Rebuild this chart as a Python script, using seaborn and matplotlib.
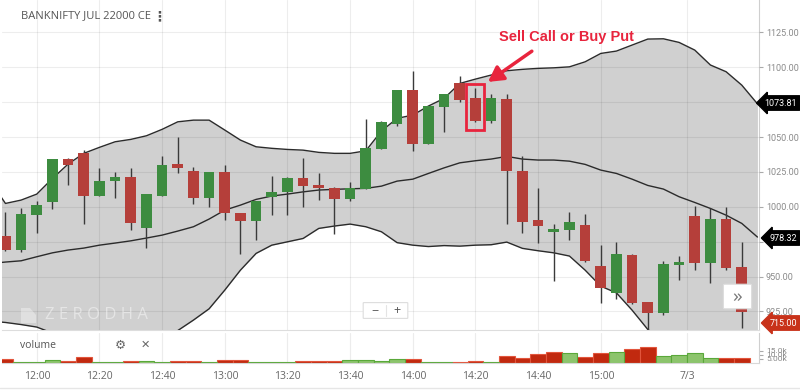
import numpy as np
import pandas as pd
import matplotlib.pyplot as plt
import seaborn as sns
from matplotlib.patches import Rectangle, FancyBboxPatch, Polygon
from matplotlib.lines import Line2D

# 5-min candles: 11:50 -> 15:25, then next day 9:15 -> 9:30
opens = [978.9, 969.3, 994.3, 1003.8, 1034.3, 1038.4, 1008.1, 1018.6, 1021.2, 985.2,
         1008.1, 1030.5, 1025.2, 1006.9, 1024.8, 995.0, 990.2, 1007.4, 1010.9, 1020.5,
         1015.0, 1013.4, 1006.2, 1012.9, 1041.9, 1059.8, 1083.1, 1045.5, 1072.1, 1088.4,
         1077.4, 1061.6, 1076.9, 1025.2, 990.0, 982.1, 983.6, 986.6, 957.4, 938.4,
         965.2, 931.2, 924.5, 958.6, 993.1, 960.3, 990.7, 956.6]
highs = [996.6, 999.1, 1003.8, 1034.5, 1035.0, 1040.7, 1027.6, 1025.2, 1027.6, 1009.0,
         1036.4, 1050.2, 1028.8, 1025.0, 1030.0, 995.5, 1004.5, 1022.1, 1021.0, 1034.8,
         1024.1, 1014.0, 1018.1, 1062.9, 1061.6, 1084.0, 1097.4, 1072.5, 1081.0, 1093.6,
         1084.8, 1080.7, 1080.7, 1036.4, 1013.4, 987.9, 996.2, 995.0, 972.9, 974.5,
         966.4, 931.5, 960.9, 965.0, 1000.7, 999.1, 999.8, 974.5]
lows = [968.0, 967.5, 981.2, 998.4, 1015.7, 987.9, 1008.0, 1006.6, 983.6, 970.5,
        1008.0, 1024.1, 1002.1, 1000.2, 990.7, 966.4, 976.4, 993.8, 993.8, 1000.2,
        1005.0, 980.7, 1003.8, 1012.9, 1041.5, 1058.0, 1040.2, 1045.0, 1053.8, 1075.2,
        1061.0, 1059.8, 987.6, 981.2, 974.1, 946.6, 976.4, 960.5, 930.7, 933.6,
        930.0, 912.0, 922.1, 947.4, 954.5, 945.5, 955.0, 913.4]
closes = [969.3, 994.3, 1000.7, 1034.3, 1030.0, 1008.1, 1018.1, 1021.2, 988.4, 1008.6,
          1030.0, 1028.1, 1006.9, 1024.8, 995.5, 990.2, 1003.8, 1010.5, 1020.5, 1015.2,
          1013.6, 1006.2, 1012.9, 1041.9, 1060.7, 1083.1, 1045.5, 1072.1, 1080.7, 1077.1,
          1062.1, 1077.6, 1025.7, 989.5, 986.4, 984.1, 988.8, 961.6, 941.9, 965.7,
          931.2, 924.5, 958.6, 959.9, 960.3, 990.7, 956.2, 925.2]
volume_k = [4.6, 1.2, 1.2, 3.3, 1.7, 6.7, 0.8, 0.8, 2.5, 2.5, 0.8, 1.7, 2.5, 0.8, 2.9, 3.7,
            0.8, 0.8, 0.8, 2.5, 2.5, 2.5, 3.7, 3.7, 2.5, 4.6, 4.6, 0.4, 1.2, 0.8, 2.5, 0.8,
            8.7, 5.4, 10.4, 13.7, 12.5, 7.5, 11.7, 12.9, 16.7, 19.2, 8.7, 9.6, 11.7, 5.4, 5.4, 5.4]

# Bollinger band readings, from one bar before the window to one bar after
bb_upper = [1019.1, 1002.4, 1004.8, 1009.1, 1020.3, 1030.6, 1038.3, 1042.6, 1046.6, 1048.3,
            1050.9, 1055.5, 1060.9, 1062.1, 1062.1, 1055.0, 1047.8, 1043.0, 1041.9, 1041.1,
            1040.6, 1039.0, 1038.3, 1038.3, 1040.1, 1054.3, 1063.4, 1065.7, 1072.2, 1077.7,
            1088.4, 1091.5, 1094.4, 1097.5, 1098.5, 1099.2, 1099.6, 1100.3, 1103.9, 1109.9,
            1111.6, 1115.9, 1120.2, 1120.4, 1117.8, 1112.3, 1101.6, 1096.8, 1087.2, 1073.81]
bb_middle = [959.3, 960.4, 961.3, 964.2, 967.0, 969.0, 970.4, 972.5, 974.0, 975.6,
             977.6, 979.7, 982.6, 985.7, 991.2, 997.6, 1001.2, 1005.3, 1007.7, 1009.1,
             1010.7, 1012.0, 1012.5, 1012.9, 1013.2, 1014.8, 1018.4, 1019.8, 1023.9, 1027.9,
             1031.5, 1033.0, 1034.2, 1036.1, 1034.2, 1033.5, 1033.5, 1032.7, 1030.4, 1026.3,
             1023.9, 1019.8, 1015.3, 1012.7, 1007.2, 1003.1, 998.8, 994.0, 988.1, 978.32]
bb_lower = [918.1, 917.1, 915.6, 913.8, 909.5, 905.9, 903.7, 902.3, 903.0, 904.4,
            906.6, 908.7, 911.3, 918.8, 926.9, 940.3, 954.6, 966.6, 972.5, 974.9,
            977.3, 984.5, 986.2, 987.6, 985.7, 982.1, 974.3, 972.5, 971.5, 972.2,
            971.8, 972.5, 972.8, 974.7, 970.2, 968.5, 967.0, 964.7, 954.6, 943.1,
            938.3, 925.9, 912.1, 903.0, 898.7, 898.7, 900.9, 903.0, 904.4, 905.9]

tick_pos = [2, 6, 10, 14, 18, 22, 26, 30, 34, 38, 43.5]
tick_labels = ['12:00', '12:20', '12:40', '13:00', '13:20', '13:40', '14:00', '14:20',
               '14:40', '15:00', '7/3']
price_ticks = [925, 950, 975, 1000, 1025, 1050, 1075, 1100, 1125]

sns.set_style('white')
plt.rcParams['font.family'] = ['Open Sans', 'DejaVu Sans']

W, H = 800, 391
def fx(px):
    return px / W
def fy(py):
    return 1 - py / H

fig = plt.figure(figsize=(8, 3.91), dpi=100)
ax = fig.add_axes([fx(2), fy(330), fx(757), 330 / H])
vax = fig.add_axes([fx(2), fy(362.7), fx(757), 29.7 / H])

idx = np.arange(len(closes))
bidx = np.arange(-1, len(bb_upper) - 1)
XL = (-0.22, 48.1)

# bands
ax.fill_between(bidx, bb_lower, bb_upper, color='#d0d0d0', zorder=1, lw=0)
for band in (bb_upper, bb_middle, bb_lower):
    sns.lineplot(x=bidx, y=band, ax=ax, color='#2b2b2b', lw=1.0, zorder=3)

# candles
o = np.array(opens); c = np.array(closes)
col = np.where(c >= o, '#3d8c40', '#b53f3a')
ax.vlines(idx, lows, highs, color='#3a3a3a', lw=1.0, zorder=3)
ax.bar(idx, np.abs(c - o) + 0.6, bottom=np.minimum(o, c) - 0.3, width=0.68,
       color=col, zorder=4, lw=0)

ax.set_xlim(*XL)
ax.set_ylim(911.7, 1148.2)
ax.set_xticks(tick_pos)
ax.set_xticklabels([])
ax.set_yticks(price_ticks)
ax.yaxis.tick_right()
ax.set_yticklabels([f'{v:.2f}' for v in price_ticks], family='Roboto')
ax.tick_params(axis='y', length=3, width=0.8, color='#aaa', pad=2, labelsize=6.5, labelcolor='#8a8a8a')
ax.tick_params(axis='x', length=0)
ax.set_axisbelow(False)
ax.grid(True, color='black', alpha=0.07, lw=0.8)
for s in ['top', 'left']:
    ax.spines[s].set_visible(False)
ax.spines['right'].set_color('#cfcfcf')
ax.spines['bottom'].set_color('#dddddd')
ax.set_xlabel('')
ax.set_ylabel('')

# highlight box and arrow
ax.add_patch(Rectangle((29.37, 1055.0), 1.2, 33.0, fill=False, ec='#e8243d', lw=2, zorder=6))
ax.annotate('', xy=(30.8, 1089.5), xytext=(33.6, 1111.5),
            arrowprops=dict(arrowstyle='-|>,head_length=0.9,head_width=0.5', color='#e8243d',
                            lw=2.5, shrinkA=0, shrinkB=0), zorder=6)
fig.text(fx(566), fy(37), 'Sell Call or Buy Put', color='#e8243d', fontsize=10.5,
         fontweight='bold', family='Liberation Sans', ha='center', va='center')

# volume
up = np.diff(np.concatenate([[opens[0]], closes])) >= 0
vdf = pd.DataFrame({'bar': idx, 'vol': volume_k, 'dir': np.where(up, 'up', 'down')})
sns.barplot(data=vdf, x='bar', y='vol', hue='dir', palette={'up': '#8cc46c', 'down': '#c1290f'},
            width=1.0, dodge=False, legend=False, saturation=1, ax=vax, lw=0.8)
for p in vax.patches:
    r, g, b, a = p.get_facecolor()
    p.set_edgecolor('#5aa83a' if g > r else '#e2553c')
vax.set_xlim(*XL)
vax.set_ylim(0, 37)
vax.set_xticks(tick_pos)
vax.set_xticklabels(tick_labels)
vax.tick_params(axis='x', length=0, pad=6, labelsize=7.5, labelcolor='#666')
vax.yaxis.tick_right()
vax.set_yticks([5, 10, 15])
vax.set_yticklabels(['5.00k', '10.0k', '15.0k'], family='Roboto')
vax.tick_params(axis='y', length=3, width=0.8, color='#aaa', pad=2, labelsize=6, labelcolor='#8a8a8a')
vax.set_axisbelow(True)
vax.grid(True, axis='x', color='#ececec', lw=0.8)
vax.set_xlabel('')
vax.set_ylabel('')
for s in ['top', 'left']:
    vax.spines[s].set_visible(False)
vax.spines['right'].set_color('#cfcfcf')
vax.spines['bottom'].set_color('#d8d8d8')

fig.add_artist(Line2D([0, 1], [fy(388), fy(388)], color='#e6e6e6', lw=1))

# last value tags
for val, py, bg in [('1073.81', 103, 'black'), ('978.32', 238, 'black'), ('715.00', 323, '#c8321a')]:
    fig.text(fx(797), fy(py), val, fontsize=6.5, color='white', va='center', ha='right',
             family='Roboto', bbox=dict(boxstyle='larrow,pad=0.3', fc=bg, ec=bg))

# header and overlay widgets
fig.text(fx(21), fy(16), 'BANKNIFTY JUL 22000 CE', fontsize=8, color='#555', va='center')
fig.text(fx(152), fy(16), '\u22ee', fontsize=10, color='#555', va='center', family='DejaVu Sans',
         fontweight='bold')
fig.text(fx(20), fy(346), 'volume', fontsize=7.5, color='#555', va='center')
fig.text(fx(120), fy(345), '\u2699', fontsize=9, color='#666', va='center', ha='center',
         family='DejaVu Sans')
fig.text(fx(145), fy(345), '\u2715', fontsize=8, color='#666', va='center', ha='center',
         family='DejaVu Sans')
fig.text(fx(45), fy(315), 'Z E R O D H A', fontsize=12, color='white', alpha=0.45, va='center')
fig.add_artist(Polygon([(fx(21), fy(323)), (fx(21), fy(308)), (fx(30), fy(308)), (fx(36), fy(315)),
                        (fx(36), fy(323))], closed=True, transform=fig.transFigure,
                       fc='white', alpha=0.35, lw=0))

fig.patches.append(FancyBboxPatch((fx(364), fy(318)), fx(43), 15 / H, boxstyle='round,pad=0.001',
                                  transform=fig.transFigure, fc='white', ec='#dddddd', lw=0.8))
fig.add_artist(Line2D([fx(386), fx(386)], [fy(316), fy(305)], color='#e4e4e4', lw=0.8))
fig.text(fx(375), fy(310.5), '\u2212', fontsize=9, color='#555', va='center', ha='center')
fig.text(fx(397), fy(310.5), '+', fontsize=9, color='#555', va='center', ha='center')

fig.patches.append(FancyBboxPatch((fx(725), fy(308)), fx(25), 23 / H, boxstyle='round,pad=0.002',
                                  transform=fig.transFigure, fc='white', ec='#dddddd', lw=0.8))
fig.text(fx(737.5), fy(297.5), '\u00bb', fontsize=14, color='#777', va='center', ha='center')

fig.savefig('out.png', dpi=100)
